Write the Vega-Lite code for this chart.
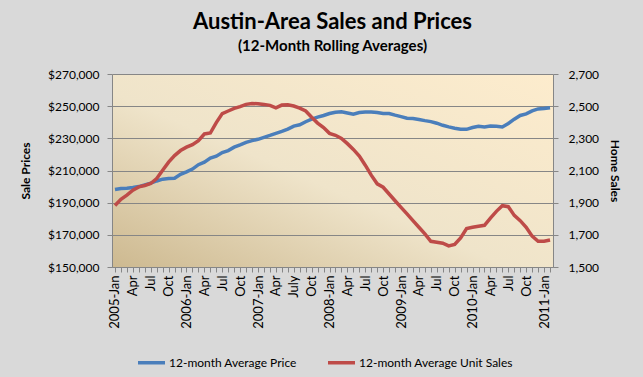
{
  "$schema": "https://vega.github.io/schema/vega-lite/v6.json",
  "width": 441,
  "height": 193,
  "autosize": {"type": "none"},
  "padding": {"left": 112, "top": 74, "right": 90, "bottom": 110},
  "background": "#d9d9d9",
  "title": {
    "text": "Austin-Area Sales and Prices",
    "subtitle": "(12-Month Rolling Averages)",
    "font": "Lato", "fontSize": 22, "fontWeight": "bold", "color": "#000000",
    "subtitleFont": "Lato", "subtitleFontSize": 15, "subtitleFontWeight": "bold", "subtitleColor": "#000000",
    "anchor": "middle", "offset": 13, "subtitlePadding": 5
  },
  "config": {
    "view": {
      "stroke": null,
      "fill": {"gradient": "linear", "x1": 0, "y1": 1, "x2": 1, "y2": 0,
        "stops": [{"offset": 0, "color": "#cdb990"}, {"offset": 0.45, "color": "#efe4ca"}, {"offset": 1, "color": "#fdeccd"}]}
    },
    "axis": {
      "labelFont": "Lato", "labelFontSize": 12, "labelColor": "#000000",
      "titleFont": "Lato", "titleFontSize": 12, "titleFontWeight": "bold", "titleColor": "#000000",
      "domainColor": "#868686", "tickColor": "#868686", "gridColor": "#868686", "gridOpacity": 1,
      "tickSize": 5
    },
    "legend": {"labelFont": "Lato", "labelFontSize": 12, "labelColor": "#000000", "labelLimit": 400}
  },
  "data": {"values": [
    {"m":"2005-01","price":198200,"units":1882},
    {"m":"2005-02","price":198800,"units":1921},
    {"m":"2005-03","price":199000,"units":1947},
    {"m":"2005-04","price":199400,"units":1978},
    {"m":"2005-05","price":200000,"units":1998},
    {"m":"2005-06","price":201100,"units":2007},
    {"m":"2005-07","price":202100,"units":2019},
    {"m":"2005-08","price":203500,"units":2050},
    {"m":"2005-09","price":204600,"units":2101},
    {"m":"2005-10","price":205000,"units":2152},
    {"m":"2005-11","price":205200,"units":2193},
    {"m":"2005-12","price":207600,"units":2224},
    {"m":"2006-01","price":209100,"units":2245},
    {"m":"2006-02","price":210900,"units":2261},
    {"m":"2006-03","price":213600,"units":2286},
    {"m":"2006-04","price":215200,"units":2327},
    {"m":"2006-05","price":217700,"units":2333},
    {"m":"2006-06","price":218900,"units":2398},
    {"m":"2006-07","price":221200,"units":2454},
    {"m":"2006-08","price":222400,"units":2470},
    {"m":"2006-09","price":224500,"units":2486},
    {"m":"2006-10","price":225900,"units":2497},
    {"m":"2006-11","price":227500,"units":2511},
    {"m":"2006-12","price":228600,"units":2517},
    {"m":"2007-01","price":229400,"units":2515},
    {"m":"2007-02","price":230600,"units":2511},
    {"m":"2007-03","price":231800,"units":2505},
    {"m":"2007-04","price":233100,"units":2490},
    {"m":"2007-05","price":234300,"units":2507},
    {"m":"2007-06","price":235700,"units":2509},
    {"m":"2007-07","price":237600,"units":2501},
    {"m":"2007-08","price":238400,"units":2488},
    {"m":"2007-09","price":240300,"units":2470},
    {"m":"2007-10","price":241900,"units":2431},
    {"m":"2007-11","price":243200,"units":2395},
    {"m":"2007-12","price":244200,"units":2367},
    {"m":"2008-01","price":245400,"units":2331},
    {"m":"2008-02","price":246200,"units":2319},
    {"m":"2008-03","price":246500,"units":2300},
    {"m":"2008-04","price":245800,"units":2267},
    {"m":"2008-05","price":245000,"units":2231},
    {"m":"2008-06","price":246000,"units":2190},
    {"m":"2008-07","price":246300,"units":2133},
    {"m":"2008-08","price":246300,"units":2071},
    {"m":"2008-09","price":246000,"units":2017},
    {"m":"2008-10","price":245400,"units":1996},
    {"m":"2008-11","price":245400,"units":1954},
    {"m":"2008-12","price":244400,"units":1912},
    {"m":"2009-01","price":243500,"units":1871},
    {"m":"2009-02","price":242500,"units":1830},
    {"m":"2009-03","price":242300,"units":1788},
    {"m":"2009-04","price":241700,"units":1747},
    {"m":"2009-05","price":241000,"units":1706},
    {"m":"2009-06","price":240400,"units":1660},
    {"m":"2009-07","price":239400,"units":1654},
    {"m":"2009-08","price":238100,"units":1648},
    {"m":"2009-09","price":237100,"units":1631},
    {"m":"2009-10","price":236300,"units":1640},
    {"m":"2009-11","price":235600,"units":1681},
    {"m":"2009-12","price":235600,"units":1739},
    {"m":"2010-01","price":236700,"units":1747},
    {"m":"2010-02","price":237500,"units":1753},
    {"m":"2010-03","price":237100,"units":1759},
    {"m":"2010-04","price":237700,"units":1804},
    {"m":"2010-05","price":237500,"units":1846},
    {"m":"2010-06","price":237100,"units":1881},
    {"m":"2010-07","price":239200,"units":1875},
    {"m":"2010-08","price":241900,"units":1821},
    {"m":"2010-09","price":244200,"units":1788},
    {"m":"2010-10","price":245200,"units":1747},
    {"m":"2010-11","price":247100,"units":1692},
    {"m":"2010-12","price":248300,"units":1660},
    {"m":"2011-01","price":248500,"units":1660},
    {"m":"2011-02","price":249000,"units":1668}
  ]},
  "layer": [
    {
      "mark": {"type": "line", "strokeWidth": 3.5},
      "encoding": {
        "x": {"field": "m", "type": "ordinal", "scale": {"type": "point", "padding": 0.5},
          "axis": {"title": null, "labelAngle": 270, "labelOverlap": false, "labelPadding": 3, "labelFontSize": 13, "grid": false,
            "labelExpr": "substring(datum.value,5,7)=='01' ? substring(datum.value,0,4)+'-Jan' : substring(datum.value,5,7)=='04' ? 'Apr' : datum.value=='2007-07' ? 'July' : substring(datum.value,5,7)=='07' ? 'Jul' : substring(datum.value,5,7)=='10' ? 'Oct' : ''"}},
        "y": {"field": "price", "type": "quantitative",
          "scale": {"domain": [150000, 270000], "nice": false, "zero": false},
          "axis": {"title": "Sale Prices", "values": [150000,170000,190000,210000,230000,250000,270000], "format": "$,.0f", "grid": true, "labelPadding": 8, "titlePadding": 15}},
        "color": {"datum": "12-month Average Price", "type": "nominal",
          "scale": {"domain": ["12-month Average Price", "12-month Average Unit Sales"], "range": ["#4a7ebb", "#be4b48"]},
          "legend": {"title": null, "orient": "none", "legendX": 24, "legendY": 273, "direction": "horizontal", "symbolType": "stroke", "symbolStrokeWidth": 3.5, "symbolSize": 729, "labelOffset": 2, "columnPadding": 24}}
      }
    },
    {
      "mark": {"type": "line", "strokeWidth": 3.5},
      "encoding": {
        "x": {"field": "m", "type": "ordinal"},
        "y": {"field": "units", "type": "quantitative",
          "scale": {"domain": [1500, 2700], "nice": false, "zero": false},
          "axis": {"title": "Home Sales", "orient": "right", "values": [1500,1700,1900,2100,2300,2500,2700], "format": ",.0f", "grid": false, "labelPadding": 10, "titlePadding": 9}},
        "color": {"datum": "12-month Average Unit Sales", "type": "nominal"}
      }
    }
  ],
  "resolve": {"scale": {"y": "independent"}}
}
